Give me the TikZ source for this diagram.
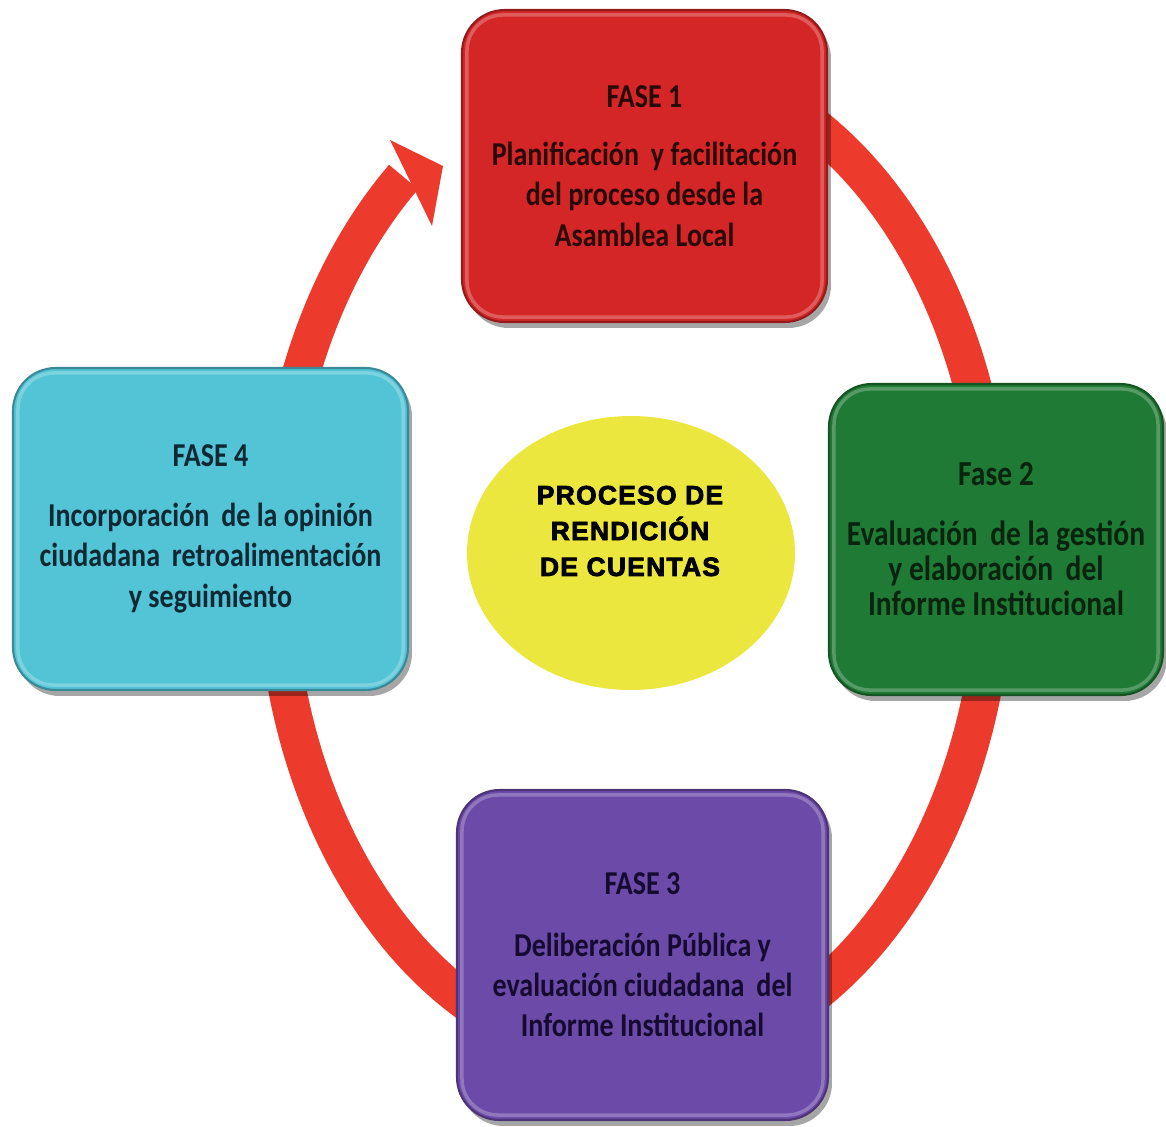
\documentclass[tikz,border=0pt]{standalone}
\usepackage{fontspec}
\newfontfamily\boxfont[FakeStretch=0.84]{Carlito}
\newfontfamily\centerfont[LetterSpace=5,FakeBold=3]{Liberation Sans}
\usetikzlibrary{arrows.meta,shapes.geometric,shadows}
\definecolor{redbox}{RGB}{212,38,38}
\definecolor{greenbox}{RGB}{30,122,52}
\definecolor{cyanbox}{RGB}{82,196,214}
\definecolor{purplebox}{RGB}{108,74,168}
\definecolor{yel}{RGB}{236,231,62}
\definecolor{ringred}{RGB}{236,58,44}
\definecolor{tred}{RGB}{40,8,8}
\definecolor{tgreen}{RGB}{8,36,14}
\definecolor{tcyan}{RGB}{14,40,52}
\definecolor{tpurple}{RGB}{22,10,48}
\begin{document}
\begin{tikzpicture}[x=0.02cm,y=-0.02cm,
  phase/.style={rounded corners=0.85cm, draw=#1!70!black, line width=1.2pt,
    fill=#1, align=center, inner sep=0pt,
    drop shadow={shadow xshift=0.08cm, shadow yshift=-0.12cm, opacity=0.35, fill=black}},
  boxtext/.style={font=\boxfont\bfseries\fontsize{19}{23}\selectfont},
  ring/.style={draw=ringred, line width=0.76cm},
  hilite/.style={rounded corners=0.72cm, draw=white, opacity=0.25, line width=2pt}]
\useasboundingbox (0,0) rectangle (1166,1126);
% cyclic ring arrow
\draw[ring]
  plot[domain=-90:230, samples=150, smooth] ({635+360*cos(\x)},{560+500*sin(\x)});
\coordinate (tip) at (443,166);
\coordinate (barbA) at (390,140);
\coordinate (barbB) at (432,226);
\fill[ringred] (barbA) -- (tip) -- (barbB) -- cycle;
% phases
\node[phase=redbox, minimum width=7.30cm, minimum height=6.24cm, boxtext, text=tred]
  (f1) at (644.5,166) {FASE 1\\[10pt]Planificación\, y facilitación\\del proceso desde la\\Asamblea Local};
\node[phase=greenbox, minimum width=6.68cm, minimum height=6.22cm, boxtext,
  font=\boxfont\bfseries\fontsize{20}{20}\selectfont, text=tgreen]
  (f2) at (996,539.5) {Fase 2\\[14pt]Evaluación\, de la gestión\\y elaboración\, del\\Informe Institucional};
\node[phase=purplebox, minimum width=7.42cm, minimum height=6.60cm, boxtext, text=tpurple]
  (f3) at (642.5,955) {FASE 3\\[12pt]Deliberación Pública y\\evaluación ciudadana\, del\\Informe Institucional};
\node[phase=cyanbox, minimum width=7.90cm, minimum height=6.44cm, boxtext, text=tcyan]
  (f4) at (210.5,529) {FASE 4\\[11pt]Incorporación\, de la opinión\\ciudadana\, retroalimentación\\y seguimiento};
\foreach \n in {f1,f2,f3,f4}
  \draw[hilite] ([shift={(6,6)}]\n.north west) rectangle ([shift={(-6,-6)}]\n.south east);
% centre
\node[ellipse, fill=yel, minimum width=6.56cm, minimum height=5.48cm, inner sep=0pt] (c) at (631,553) {};
\node[font=\centerfont\bfseries\fontsize{15}{20.4}\selectfont, align=center, text=black]
  (ct) at (630,531) {PROCESO DE\\RENDICIÓN\\DE CUENTAS};
\end{tikzpicture}
\end{document}
